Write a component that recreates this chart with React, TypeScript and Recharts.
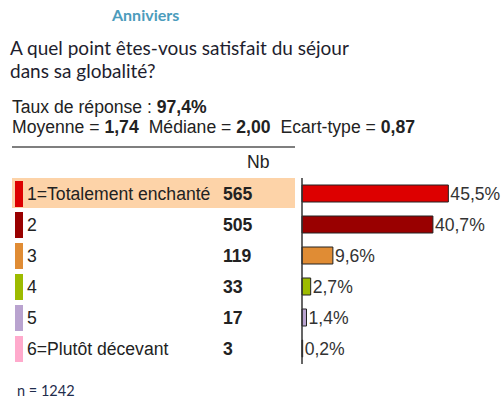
import React from "react";
import { BarChart, Bar, XAxis, YAxis, Cell, LabelList } from "recharts";

const categories = ["1=Totalement enchanté", "2", "3", "4", "5", "6=Plutôt décevant"];
const counts = [565, 505, 119, 33, 17, 3];
const percents = [45.5, 40.7, 9.6, 2.7, 1.4, 0.2];
const colors = ["#dd0000", "#990000", "#e08c34", "#9dbb00", "#b9a3cf", "#ffaacc"];

const data = categories.map((label, i) => ({
  label,
  nb: counts[i],
  pct: percents[i],
  color: colors[i],
}));

const ARIAL = '"Liberation Sans", Arial, sans-serif';
const CALIBRI = 'Lato, "Open Sans", sans-serif';

function RowTick(props: any) {
  const { y, payload } = props;
  const i = categories.indexOf(payload.value);
  return (
    <g>
      {i === 0 && <rect x={12} y={y - 15.5} width={283} height={30} fill="#fdd3a8" />}
      <rect x={15} y={y - 12.5} width={8} height={26} fill={colors[i]} />
      <text x={27} y={y + 6} fontSize={17.6} fontFamily={ARIAL} fill="#222">
        {payload.value}
      </text>
      <text x={223} y={y + 6} fontSize={17.6} fontFamily={ARIAL} fontWeight="bold" fill="#222">
        {counts[i]}
      </text>
    </g>
  );
}

export default function App() {
  return (
    <div style={{ position: "absolute", left: 0, top: 0, width: 502, height: 400, background: "#fff" }}>
      <svg width={502} height={400} style={{ position: "absolute", left: 0, top: 0 }}>
        <text x={112} y={21} fontSize={16} fontWeight="bold" fontFamily={CALIBRI} fill="#4b9cbc">
          Anniviers
        </text>
        <text x={10} y={55} fontSize={19} fontFamily={CALIBRI} fill="#1e1e2e">
          A quel point êtes-vous satisfait du séjour
        </text>
        <text x={10} y={78} fontSize={19} fontFamily={CALIBRI} fill="#1e1e2e">
          dans sa globalité?
        </text>
        <text x={12} y={113} fontSize={17.6} fontFamily={ARIAL} fill="#222">
          Taux de réponse : <tspan fontWeight="bold">97,4%</tspan>
        </text>
        <text x={12} y={133} fontSize={17.6} fontFamily={ARIAL} fill="#222">
          Moyenne = <tspan fontWeight="bold">1,74</tspan>
          <tspan dx={10}>Médiane = </tspan>
          <tspan fontWeight="bold">2,00</tspan>
          <tspan dx={10}>Ecart-type = </tspan>
          <tspan fontWeight="bold">0,87</tspan>
        </text>
        <line x1={12} x2={295} y1={147} y2={147} stroke="#555" strokeWidth={1.5} />
        <text x={247} y={168} fontSize={17.6} fontFamily={ARIAL} fill="#222">
          Nb
        </text>
        <text x={17} y={396} fontSize={14.5} fontFamily={CALIBRI} fill="#1f2d4d">
          n = 1242
        </text>
      </svg>
      <div style={{ position: "absolute", left: 0, top: 178 }}>
        <BarChart
          width={502}
          height={186}
          data={data}
          layout="vertical"
          margin={{ top: 0, right: 7, bottom: 0, left: 0 }}
        >
          <XAxis type="number" domain={[0, 60]} hide />
          <YAxis
            type="category"
            dataKey="label"
            width={302}
            axisLine={{ stroke: "#333", strokeWidth: 1.5 }}
            tickLine={false}
            tick={<RowTick />}
            interval={0}
          />
          <Bar dataKey="pct" barSize={17} stroke="#222" strokeWidth={1} isAnimationActive={false}>
            {data.map((d, i) => (
              <Cell key={`cell-${i}`} fill={d.color} />
            ))}
            <LabelList
              dataKey="pct"
              position="right"
              offset={2}
              fontSize={17.6}
              fontFamily={ARIAL}
              fill="#333"
              formatter={(v: any) => `${String(v).replace(".", ",")}%`}
            />
          </Bar>
        </BarChart>
      </div>
    </div>
  );
}
